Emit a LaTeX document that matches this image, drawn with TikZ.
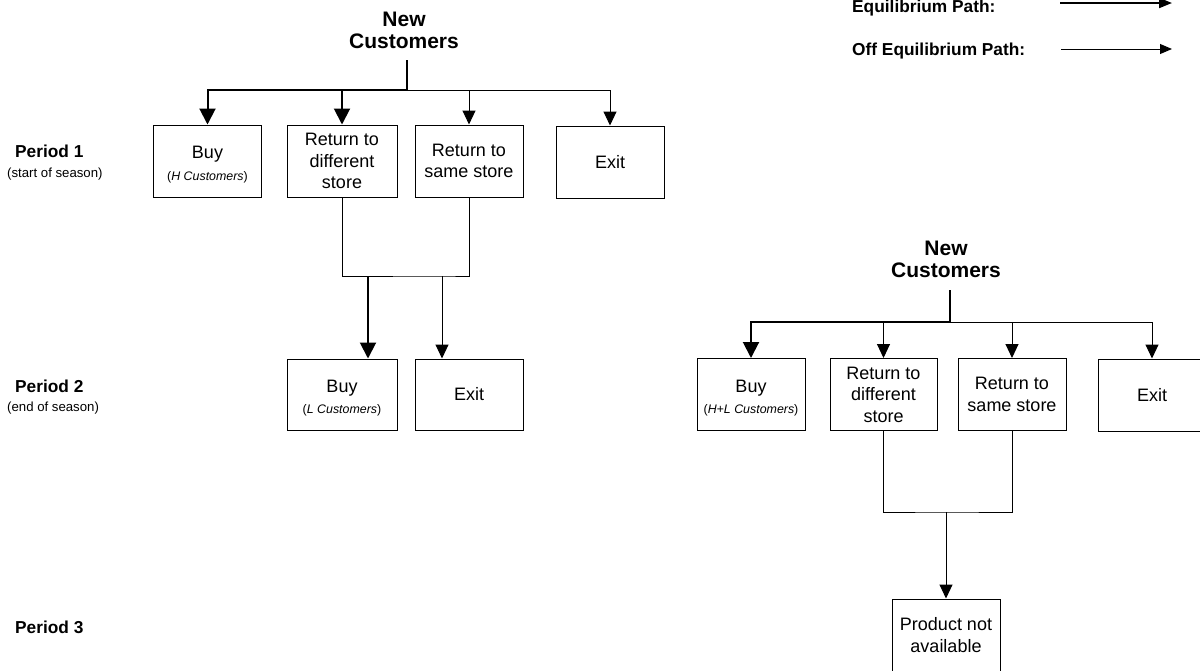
\documentclass[tikz,border=0pt]{standalone}
\usepackage{fontspec}
\setmainfont{Liberation Sans}
\usetikzlibrary{arrows.meta}

\tikzset{
  box/.style={draw, line width=1pt, minimum width=108pt, minimum height=72pt, inner sep=0pt, align=center, font=\fontsize{18}{21.5}\selectfont},
  title/.style={align=center, font=\bfseries\fontsize{21}{22}\selectfont},
  label/.style={anchor=base west, inner sep=0pt, font=\bfseries\fontsize{17.3}{20}\selectfont},
  sublabel/.style={anchor=base west, inner sep=0pt, font=\fontsize{13.2}{15}\selectfont},
  eq/.style={line width=2pt},
  off/.style={line width=1pt},
  eqarrow/.style={eq, -{Triangle[width=16pt,length=16pt]}},
  offarrow/.style={off, -{Triangle[width=13pt,length=14pt]}}
}
\newcommand{\cust}[1]{{\fontsize{12.4}{14}\selectfont(\textit{#1 Customers})}}

\begin{document}
\begin{tikzpicture}[x=1pt, y=-1pt]
  \useasboundingbox (0,0) rectangle (1200,670);

  % legend
  \node[label] (eqL) at (852,12) {Equilibrium Path:};
  \node[label] (offL) at (852,55) {Off Equilibrium Path:};
  \coordinate (eqS) at (1060,3);
  \coordinate (eqE) at (1172,3);
  \coordinate (offS) at (1061,49);
  \coordinate (offE) at (1172,49);
  \draw[eq, -{Triangle[width=10pt,length=13pt]}] (eqS) -- (eqE);
  \draw[off, -{Triangle[width=10pt,length=12pt]}] (offS) -- (offE);

  % periods
  \node[label] (p1) at (15,157) {Period 1};
  \node[sublabel] (s1) at (7,177) {(start of season)};
  \node[label] (p2) at (15,392) {Period 2};
  \node[sublabel] (s2) at (7,411) {(end of season)};
  \node[label] (p3) at (15,633) {Period 3};

  % left tree, period 1
  \node[title] (nA) at (404,30) {New\\Customers};
  \coordinate (tA) at (407,60);
  \coordinate (jA) at (407,90);
  \node[box] (buyA) at (207.5,161) {\rule{0pt}{20pt}Buy\\\cust{H}};
  \node[box, minimum width=110pt] (rdA) at (342,161) {Return to\\different\\store};
  \node[box] (rsA) at (469,161) {Return to\\same store};
  \node[box] (exA) at (610,162) {Exit};

  \draw[eq] (tA) -- (jA);
  \draw[eqarrow] (jA) -| (buyA.north);
  \draw[eqarrow] (jA -| rdA.north) -- (rdA.north);
  \draw[offarrow] (jA) -| (exA.north);
  \draw[offarrow] (jA -| rsA.north) -- (rsA.north);

  % left tree, period 2
  \node[box, minimum width=110pt, minimum height=71pt] (buyB) at (342,394.5) {\rule{0pt}{20pt}Buy\\\cust{L}};
  \node[box, minimum height=71pt] (exB) at (469,394.5) {Exit};
  \coordinate (jB) at (368,276);
  \coordinate (kB) at (442,276);

  \draw[off] (rdA.south) |- (kB) -| (rsA.south);
  \draw[eqarrow] (jB) -- (jB |- buyB.north);
  \draw[offarrow] (kB) -- (kB |- exB.north);

  % right tree, periods 2 and 3
  \node[title] (nC) at (946,259) {New\\Customers};
  \coordinate (tC) at (950,290);
  \coordinate (jC) at (950,322);
  \node[box] (buyC) at (751,394.5) {\rule{0pt}{20pt}Buy\\\cust{H+L}};
  \node[box, minimum width=107pt] (rdC) at (883.5,394.5) {Return to\\different\\store};
  \node[box] (rsC) at (1012,394.5) {Return to\\same store};
  \node[box] (exC) at (1152,395) {Exit};

  \draw[eq] (tC) -- (jC);
  \draw[eqarrow] (jC) -| (buyC.north);
  \draw[off] (jC) -- (jC -| exC.north);
  \draw[offarrow] (jC -| rdC.north) -- (rdC.north);
  \draw[offarrow] (jC -| rsC.north) -- (rsC.north);
  \draw[offarrow] (jC -| exC.north) -- (exC.north);

  \node[box] (prodC) at (946,635) {Product not\\available};
  \coordinate (jD) at (946,512);

  \draw[off] (rdC.south) |- (jD) -| (rsC.south);
  \draw[offarrow] (jD) -- (prodC.north);
\end{tikzpicture}
\end{document}
